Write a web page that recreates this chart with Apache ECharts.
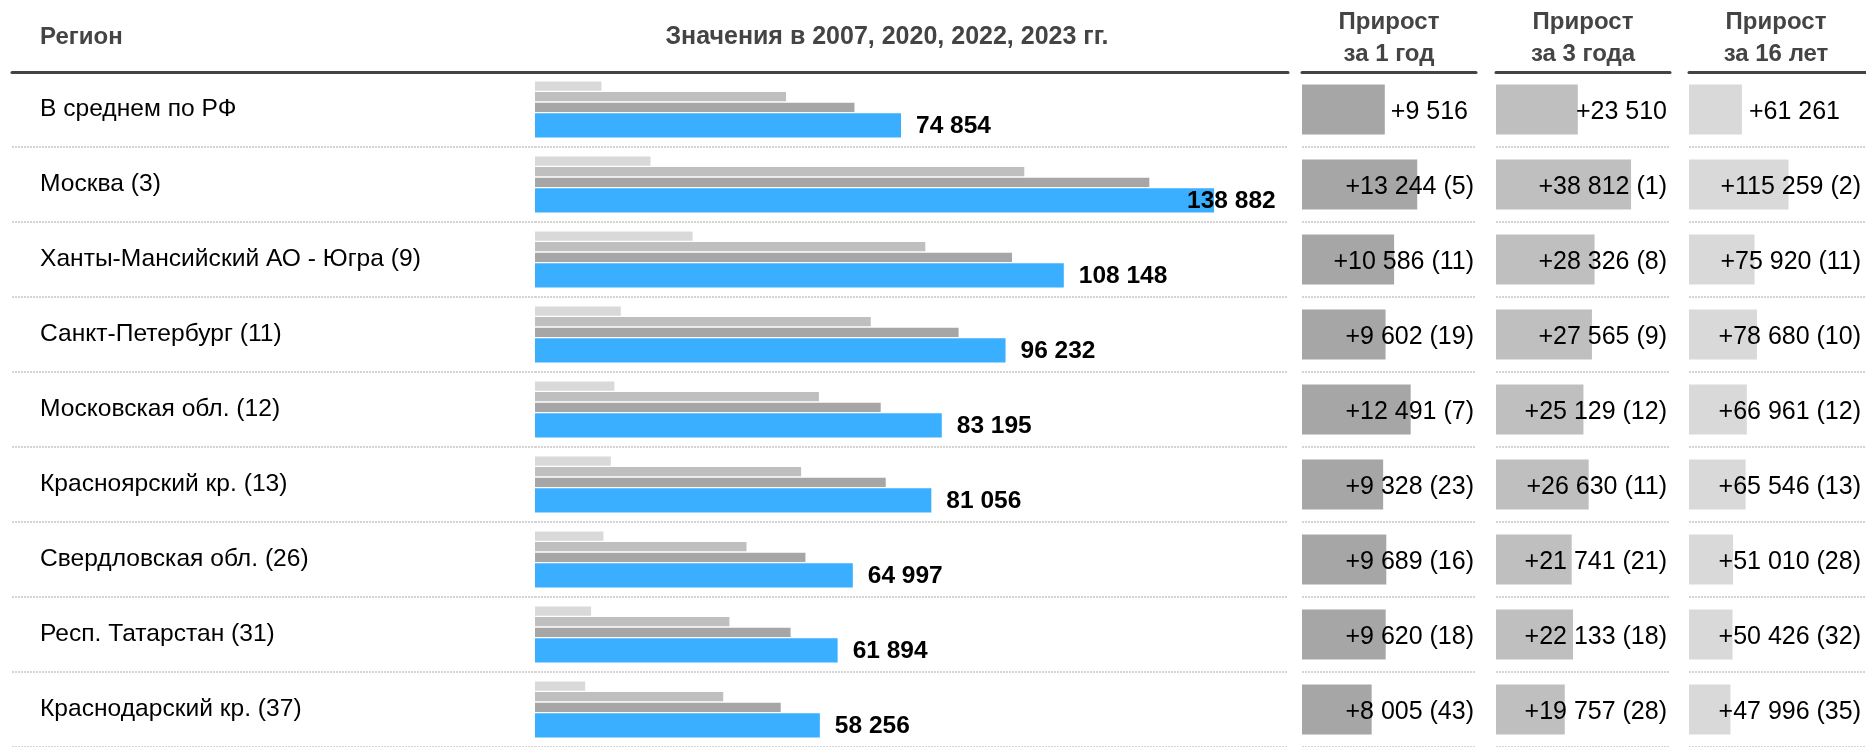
<!DOCTYPE html>
<html><head><meta charset="utf-8">
<script src="https://cdn.jsdelivr.net/npm/echarts@6/dist/echarts.min.js"></script>
<style>html,body{margin:0;padding:0;background:#fff}#c{width:1866px;height:747px}</style>
</head><body><div id="c"></div>
<script>
// ---- data ----
const regions = ['В среднем по РФ','Москва (3)','Ханты-Мансийский АО - Югра (9)','Санкт-Петербург (11)','Московская обл. (12)','Красноярский кр. (13)','Свердловская обл. (26)','Респ. Татарстан (31)','Краснодарский кр. (37)'];
const v2007 = [13593, 23623, 32228, 17552, 16234, 15510, 13987, 11468, 10260];
const v2020 = [51344, 100070, 79822, 68667, 58066, 54426, 43256, 39761, 38499];
const v2022 = [65338, 125638, 97562, 86630, 70704, 71728, 55308, 52274, 50251];
const v2023 = [74854, 138882, 108148, 96232, 83195, 81056, 64997, 61894, 58256];
const gain1 = [9516, 13244, 10586, 9602, 12491, 9328, 9689, 9620, 8005];
const rank1 = [null, 5, 11, 19, 7, 23, 16, 18, 43];
const gain3 = [23510, 38812, 28326, 27565, 25129, 26630, 21741, 22133, 19757];
const rank3 = [null, 1, 8, 9, 12, 11, 21, 18, 28];
const gain16 = [61261, 115259, 75920, 78680, 66961, 65546, 51010, 50426, 47996];
const rank16 = [null, 2, 11, 10, 12, 13, 28, 32, 35];
const headRegion = 'Регион';
const headValues = 'Значения в 2007, 2020, 2022, 2023 гг.';
const headGains = ['Прирост\nза 1 год', 'Прирост\nза 3 года', 'Прирост\nза 16 лет'];

// ---- chart ----
const FONT = '"Liberation Sans", Arial, sans-serif';
const fmt = v => String(v).replace(/\B(?=(\d{3})+(?!\d))/g, ' ');
const TOP = 72, H = 675;
const grids = [
  {left: 12, width: 523},
  {left: 535, width: 753},
  {left: 1302, width: 174},
  {left: 1496, width: 174},
  {left: 1689, width: 177}
];
const xMax = [1, 154000, 20000, 50000, 205000];
const split = {show: true, lineStyle: {color: '#d4d4d4', width: 2, type: [2, 1]}};

const option = {
  animation: false,
  textStyle: {fontFamily: FONT},
  grid: grids.map(g => ({left: g.left, width: g.width, top: TOP, height: H})),
  xAxis: grids.map((g, i) => ({
    type: 'value', gridIndex: i, position: 'top', min: 0, max: xMax[i], z: 5,
    axisLine: {show: true, onZero: false, lineStyle: {color: '#444', width: 3}},
    axisTick: {show: false}, axisLabel: {show: false}, splitLine: {show: false}
  })),
  yAxis: grids.map((g, i) => ({
    type: 'category', gridIndex: i, inverse: true, data: regions,
    axisLine: {show: false}, axisTick: {show: false},
    axisLabel: i === 0 ? {show: true, inside: true, margin: 28, fontSize: 24.6, color: '#000', fontFamily: FONT} : {show: false},
    splitLine: split
  })),
  series: [
    {name: '2007', type: 'bar', xAxisIndex: 1, yAxisIndex: 1, data: v2007, barWidth: 9.3, barGap: '14%', itemStyle: {color: '#d9d9d9'}},
    {name: '2020', type: 'bar', xAxisIndex: 1, yAxisIndex: 1, data: v2020, barWidth: 9.3, barGap: '14%', itemStyle: {color: '#bfbfbf'}},
    {name: '2022', type: 'bar', xAxisIndex: 1, yAxisIndex: 1, data: v2022, barWidth: 9.3, barGap: '14%', itemStyle: {color: '#a6a6a6'}},
    {name: '2023', type: 'bar', xAxisIndex: 1, yAxisIndex: 1, barWidth: 24.3, barGap: '14%', itemStyle: {color: '#3bafff'},
      data: v2023.map(v => v === Math.max(...v2023) ? {value: v, label: {offset: [-42, 1]}} : v),
      label: {show: true, position: 'right', distance: 15, offset: [0, 1], fontSize: 24.5, fontWeight: 'bold', color: '#000', fontFamily: FONT,
        formatter: p => fmt(p.value)}}
  ].concat([[gain1, rank1, '#a6a6a6', 172, 166], [gain3, rank3, '#bfbfbf', 171, 171], [gain16, rank16, '#d9d9d9', 172, 151]].map((c, k) => ({
    type: 'bar', xAxisIndex: k + 2, yAxisIndex: k + 2, barWidth: 50, itemStyle: {color: c[2]},
    data: c[0].map((v, i) => c[1][i] == null ? {value: v, label: {position: [c[4], '50%']}} : v),
    label: {show: true, position: [c[3], '50%'], offset: [0, 2.5], align: 'right', verticalAlign: 'middle', fontSize: 25, color: '#000', fontFamily: FONT,
      formatter: p => '+' + fmt(p.value) + (c[1][p.dataIndex] != null ? ' (' + c[1][p.dataIndex] + ')' : '')}
  }))),
  graphic: [
    {type: 'text', x: 40, y: 37, style: {text: headRegion, font: 'bold 24px ' + FONT, fill: '#444', textVerticalAlign: 'middle'}},
    {type: 'text', x: 887, y: 37.5, style: {text: headValues, font: 'bold 25px ' + FONT, fill: '#444', textAlign: 'center', textVerticalAlign: 'middle'}}
  ].concat(headGains.map((t, k) => ({
    type: 'text', x: grids[k + 2].left + (k === 2 ? 87 : grids[k + 2].width / 2), y: 38,
    style: {text: t, font: 'bold 24px ' + FONT, lineHeight: 32, fill: '#444', textAlign: 'center', textVerticalAlign: 'middle'}
  })))
};
echarts.init(document.getElementById('c'), null, {renderer: 'canvas'}).setOption(option);
</script>
</body></html>
